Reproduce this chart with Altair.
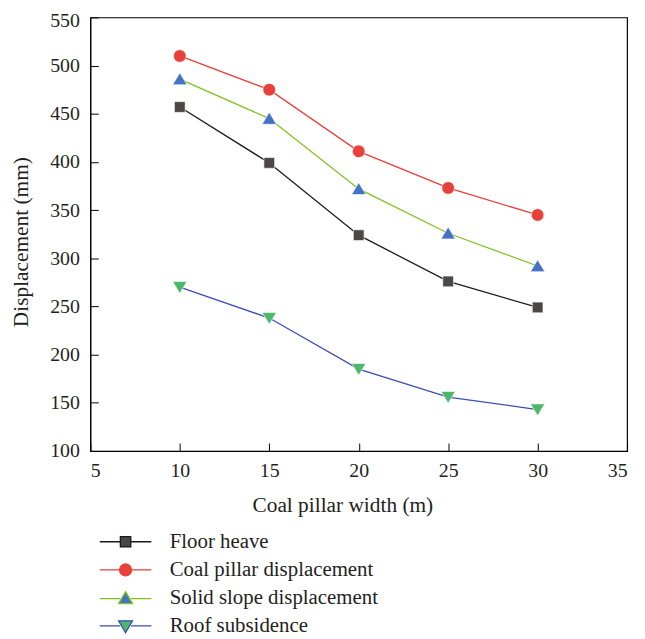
import altair as alt
import pandas as pd

# ---------------- data ----------------
widths = [10, 15, 20, 25, 30]
series_names = ["Floor heave", "Coal pillar displacement",
                "Solid slope displacement", "Roof subsidence"]
floor_heave = [457, 399, 324, 276, 249]
coal_pillar = [510, 475, 411, 373, 345]
solid_slope = [486, 445, 372, 326, 292]
roof_subsidence = [270, 238, 185, 156, 143]

x_ticks = [5, 10, 15, 20, 25, 30, 35]
y_ticks = [100, 150, 200, 250, 300, 350, 400, 450, 500, 550]

line_colors = ["#1a1a1a", "#E8403A", "#7FC31C", "#3D4DB5"]
marker_colors = ["#4B4747", "#E8403A", "#4472C4", "#4DB86B"]
marker_paths = [
    "M-0.9,-0.9H0.9V0.9H-0.9Z",
    "M-1.05,0A1.05,1.05 0 1,0 1.05,0A1.05,1.05 0 1,0 -1.05,0Z",
    "M0,-1.05L1.2,0.95L-1.2,0.95Z",
    "M0,1.05L1.2,-0.95L-1.2,-0.95Z",
]
legend_paths = [
    "M-5.2,0H-1.05M1.05,0H5.2M-1.05,-1.05H1.05V1.05H-1.05Z",
    "M-5.2,0H-1.2M1.2,0H5.2M-1.2,0A1.2,1.2 0 1,0 1.2,0A1.2,1.2 0 1,0 -1.2,0Z",
    "M-5.2,0.1H-1.1M1.1,0.1H5.2M0,-1.3L1.4,1.1L-1.4,1.1Z",
    "M-5.2,-0.1H-1.1M1.1,-0.1H5.2M0,1.3L1.4,-1.1L-1.4,-1.1Z",
]

rows = []
for name, vals in zip(series_names, [floor_heave, coal_pillar, solid_slope, roof_subsidence]):
    for w, v in zip(widths, vals):
        rows.append({"width": w, "disp": v, "series": name})
df = pd.DataFrame(rows)

FONT = "Liberation Serif"
TXT = "#231f20"
FS = 20      # tick labels
TFS = 21.5   # axis titles
LFS = 21     # legend labels
W, H = 541, 437

xscale = alt.Scale(domain=[5, 35], nice=False, zero=False)
yscale = alt.Scale(domain=[100, 550], nice=False, zero=False)

x_main = alt.X("width:Q", scale=xscale, axis=alt.Axis(
    orient="bottom", title="Coal pillar width (m)", values=x_ticks, ticks=False, tickSize=0,
    labelPadding=10, titleX=254, titleY=44, titleBaseline="top", grid=False,
    domainColor="black",
    labelFont=FONT, titleFont=FONT, labelFontSize=FS, titleFontSize=TFS,
    titleFontWeight="normal", labelColor=TXT, titleColor=TXT))
y_main = alt.Y("disp:Q", scale=yscale, axis=alt.Axis(
    orient="left", title="Displacement (mm)", values=y_ticks, ticks=False, tickSize=0,
    labelPadding=11, titleX=-69, titleY=226, titleBaseline="middle", titleAngle=270,
    grid=False, domainColor="black",
    labelOffset={"condition": {"test": "datum.value == 550", "value": 3}, "value": 0},
    labelFont=FONT, titleFont=FONT, labelFontSize=FS, titleFontSize=TFS,
    titleFontWeight="normal", labelColor=TXT, titleColor=TXT))

x_none = alt.X("width:Q", scale=xscale, axis=None)
y_none = alt.Y("disp:Q", scale=yscale, axis=None)

base = alt.Chart(df)

lines = base.mark_line(strokeWidth=1.3).encode(
    x=x_main, y=y_main,
    stroke=alt.Stroke("series:N", scale=alt.Scale(domain=series_names, range=line_colors),
                      legend=None),
)

points = base.mark_point(filled=True, size=144, opacity=1, stroke="white",
                         strokeWidth=0.6).encode(
    x=x_none, y=y_none,
    fill=alt.Fill("series:N", scale=alt.Scale(domain=series_names, range=marker_colors),
                  legend=None),
    shape=alt.Shape("series:N", scale=alt.Scale(domain=series_names, range=marker_paths),
                    legend=None),
)

leg = alt.Legend(title=None)
legend_layer = base.mark_point(filled=True, size=0, opacity=1, strokeWidth=1.3).encode(
    x=x_none, y=y_none,
    stroke=alt.Stroke("series:N", scale=alt.Scale(domain=series_names, range=line_colors),
                      legend=leg),
    fill=alt.Fill("series:N", scale=alt.Scale(domain=series_names, range=marker_colors),
                  legend=leg),
    shape=alt.Shape("series:N", scale=alt.Scale(domain=series_names, range=legend_paths),
                    legend=leg),
)

tick_layer = base.mark_point(opacity=0, size=0).encode(
    x=alt.X("width:Q", scale=xscale, axis=alt.Axis(
        orient="top", offset=-H, labels=False, domain=False, ticks=True, tickSize=8,
        tickColor="black", values=x_ticks, title=None, grid=False)),
    y=alt.Y("disp:Q", scale=yscale, axis=alt.Axis(
        orient="right", offset=-W, labels=False, domain=False, ticks=True, tickSize=8,
        tickColor="black", values=y_ticks, title=None, grid=False)),
)

chart = alt.layer(lines, points, legend_layer, tick_layer).resolve_scale(
    x="independent", y="independent",
    stroke="independent", fill="independent", shape="independent",
).properties(
    width=W, height=H,
    autosize=alt.AutoSizeParams(type="none"),
    padding={"left": 83, "top": 7, "right": 10, "bottom": 187},
).configure_view(
    stroke="black", strokeWidth=1.2
).configure_legend(
    orient="none", legendX=25, legendY=518, padding=0, rowPadding=6.4,
    labelFont=FONT, labelFontSize=LFS, labelColor=TXT, labelOffset=34,
    symbolSize=100, symbolStrokeWidth=1.3, labelLimit=400,
)

chart.save("out.html", embed_options={"renderer": "svg", "actions": False})
